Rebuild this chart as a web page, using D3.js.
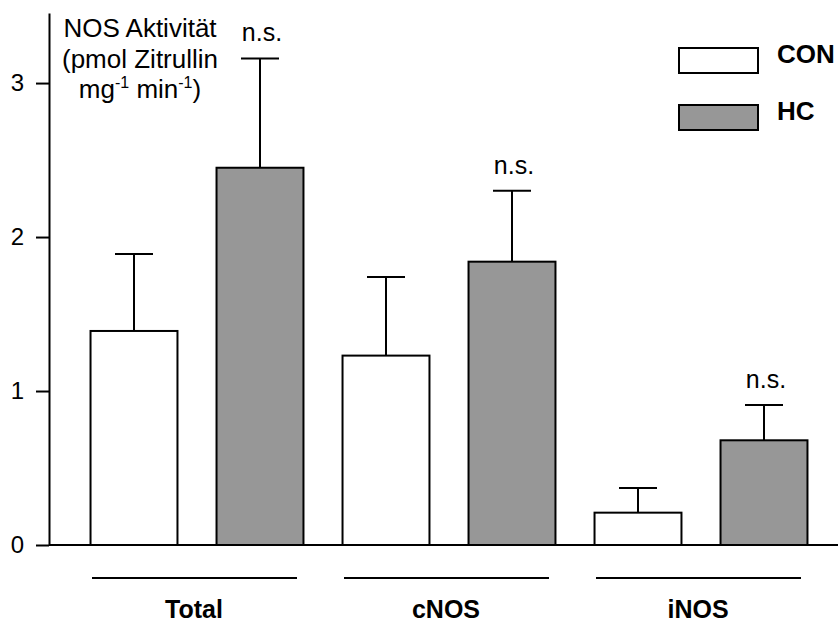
<!DOCTYPE html>
<html>
<head>
<meta charset="utf-8">
<script src="https://cdn.jsdelivr.net/npm/d3@7"></script>
<style>
  body { margin: 0; background: #fff; }
  text { font-family: "Liberation Sans", Arial, sans-serif; fill: #000; }
</style>
</head>
<body>
<script>
// Data
var groups       = ["Total", "cNOS", "iNOS"];
var seriesNames  = ["CON", "HC"];
var conValues    = [1.39, 1.23, 0.21];
var conErrors    = [0.50, 0.51, 0.16];
var hcValues     = [2.45, 1.84, 0.68];
var hcErrors     = [0.71, 0.46, 0.23];
var sigLabels    = ["n.s.", "n.s.", "n.s."];
var yTicks       = [0, 1, 2, 3];

//Graphics constants
var width  = 838;
var height = 625;
var fills  = {CON: "#ffffff", HC: "#979797"};

var svg = d3.select("body")
   .append("svg")
    .attr("width", width)
    .attr("height", height);

// Scales
var y = d3.scaleLinear().domain([0, 3.455]).range([545, 13]);
var x0 = d3.scaleBand().domain(groups).range([71, 827]).padding(0);
var x1 = d3.scaleBand().domain(seriesNames).range([0, x0.bandwidth()])
    .paddingInner(0.31).paddingOuter(0.155);

// flatten into rows
var rows = [];
groups.forEach(function(g, i) {
    rows.push({group: g, series: "CON", value: conValues[i], err: conErrors[i]});
    rows.push({group: g, series: "HC",  value: hcValues[i],  err: hcErrors[i]});
});

// Baseline
svg.append("line")
    .attr("x1", 49).attr("x2", width)
    .attr("y1", y(0)).attr("y2", y(0))
    .attr("stroke", "black").attr("stroke-width", 2);

// Error bars (drawn before bars so the bar outline sits on top)
var eb = svg.append("g").selectAll("g.err").data(rows).enter().append("g");
eb.append("line")
    .attr("x1", function(d) { return x0(d.group) + x1(d.series) + x1.bandwidth() / 2; })
    .attr("x2", function(d) { return x0(d.group) + x1(d.series) + x1.bandwidth() / 2; })
    .attr("y1", function(d) { return y(d.value); })
    .attr("y2", function(d) { return y(d.value + d.err); })
    .attr("stroke", "black").attr("stroke-width", 2);
eb.append("line")
    .attr("x1", function(d) { return x0(d.group) + x1(d.series) + x1.bandwidth() / 2 - 19; })
    .attr("x2", function(d) { return x0(d.group) + x1(d.series) + x1.bandwidth() / 2 + 19; })
    .attr("y1", function(d) { return y(d.value + d.err); })
    .attr("y2", function(d) { return y(d.value + d.err); })
    .attr("stroke", "black").attr("stroke-width", 2);

// Bars
svg.append("g").selectAll("rect").data(rows).enter().append("rect")
    .attr("x", function(d) { return x0(d.group) + x1(d.series); })
    .attr("y", function(d) { return y(d.value); })
    .attr("width", x1.bandwidth())
    .attr("height", function(d) { return y(0) - y(d.value); })
    .attr("fill", function(d) { return fills[d.series]; })
    .attr("stroke", "black").attr("stroke-width", 2);

// n.s. labels above HC error bars
svg.append("g").selectAll("text").data(groups).enter().append("text")
    .attr("x", function(g) { return x0(g) + x1("HC") + x1.bandwidth() / 2 + 2; })
    .attr("y", function(g, i) { return y(hcValues[i] + hcErrors[i]) - 17; })
    .attr("text-anchor", "middle")
    .attr("font-size", 25)
    .text(function(g, i) { return sigLabels[i]; });

// Y axis
var yAxis = d3.axisLeft(y).tickValues(yTicks).tickSize(13).tickSizeOuter(0).tickPadding(12)
    .tickFormat(d3.format("d"));
var ag = svg.append("g").attr("transform", "translate(49,0)").call(yAxis);
ag.select(".domain").attr("stroke-width", 2);
ag.selectAll(".tick line").attr("stroke-width", 2);
ag.selectAll(".tick text").attr("font-size", 24)
    .attr("font-family", "Liberation Sans, Arial, sans-serif");

// Y axis title
var title = svg.append("text").attr("text-anchor", "middle").attr("font-size", 26);
title.append("tspan").attr("x", 140).attr("y", 37).text("NOS Aktivität");
title.append("tspan").attr("x", 140).attr("y", 68).text("(pmol Zitrullin");
var t3 = svg.append("text").attr("text-anchor", "middle").attr("font-size", 26)
    .attr("x", 140).attr("y", 98);
t3.append("tspan").text("mg");
t3.append("tspan").attr("font-size", 16).attr("dy", -10).text("-1");
t3.append("tspan").attr("dy", 10).text(" min");
t3.append("tspan").attr("font-size", 16).attr("dy", -10).text("-1");
t3.append("tspan").attr("dy", 10).text(")");

// Group lines and labels
var gl = svg.append("g").selectAll("g").data(groups).enter().append("g")
    .attr("transform", function(g) { return "translate(" + (x0(g) + x0.bandwidth() / 2 - 3) + ",0)"; });
gl.append("line")
    .attr("x1", -102).attr("x2", 103)
    .attr("y1", 578).attr("y2", 578)
    .attr("stroke", "black").attr("stroke-width", 2);
gl.append("text")
    .attr("y", 618)
    .attr("text-anchor", "middle")
    .attr("font-size", 25).attr("font-weight", "bold")
    .text(function(g) { return g; });

// Legend
var lg = svg.append("g").selectAll("g").data(seriesNames).enter().append("g")
    .attr("transform", function(s, i) { return "translate(679," + (48 + i * 57) + ")"; });
lg.append("rect")
    .attr("width", 79).attr("height", 25)
    .attr("fill", function(s) { return fills[s]; })
    .attr("stroke", "black").attr("stroke-width", 2);
lg.append("text")
    .attr("x", 98).attr("y", 15)
    .attr("font-size", 26).attr("font-weight", "bold")
    .text(function(s) { return s; });
</script>
</body>
</html>
